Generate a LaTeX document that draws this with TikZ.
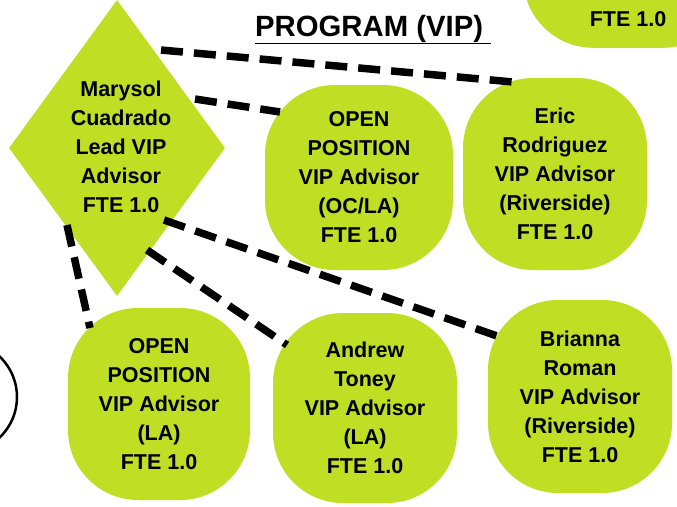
\documentclass[tikz,border=0pt]{standalone}
\usepackage{fontspec}
\setmainfont{Liberation Sans}
\usetikzlibrary{shapes.geometric,calc}
\definecolor{lime}{RGB}{191,222,36}
\begin{document}
\begin{tikzpicture}[x=1pt,y=-1pt,
  bubble/.style={rectangle, fill=lime, rounded corners=70pt, inner sep=0pt, align=center, font=\bfseries\fontsize{21.5}{29}\selectfont},
  txt/.style={inner sep=0pt, align=center, font=\bfseries\fontsize{21.5}{29}\selectfont},
  link/.style={line width=7.5pt, dash pattern=on 22pt off 11pt, black}]
\useasboundingbox (0,0) rectangle (677,506);
\clip (0,0) rectangle (677,506);
% top-right partial box
\node[bubble, minimum width=210, minimum height=190, anchor=south west] (topbox) at (523,48) {};
\node[txt] (toptext) at (628,19) {FTE 1.0};
% title
\node[inner sep=0pt, anchor=base west, font=\bfseries\fontsize{29.3}{34}\selectfont] (title) at (255,36) {\underline{PROGRAM (VIP)\ }};
% left circle
\node[circle, draw, line width=2.5pt, minimum size=112, inner sep=0pt] (ring) at (-39,397) {};
% diamond
\node[diamond, fill=lime, minimum width=216, minimum height=296, inner sep=0pt] (dia) at (117,148) {};
\node[txt] (diatext) at (121,146.5) {Marysol\\Cuadrado\\Lead VIP\\Advisor\\FTE 1.0};
% advisors
\node[bubble, minimum width=188, minimum height=185] (ocla) at (359,177.5) {OPEN\\POSITION\\VIP Advisor\\(OC/LA)\\FTE 1.0};
\node[bubble, minimum width=184, minimum height=192] (eric) at (555,174) {Eric\\Rodriguez\\VIP Advisor\\(Riverside)\\FTE 1.0};
\node[bubble, minimum width=182, minimum height=192] (la) at (159,404) {OPEN\\POSITION\\VIP Advisor\\(LA)\\FTE 1.0};
\node[bubble, minimum width=184, minimum height=190] (andrew) at (365,408) {Andrew\\Toney\\VIP Advisor\\(LA)\\FTE 1.0};
\node[bubble, minimum width=184, minimum height=193] (brianna) at (580,396.5) {Brianna\\Roman\\VIP Advisor\\(Riverside)\\FTE 1.0};
% connectors
\draw[link] ($(dia.center)+(44,-98)$) -- ($(eric.center)+(-42,-92)$);
\draw[link] ($(dia.center)+(78,-49)$) -- ($(ocla.center)+(-79,-65.5)$);
\draw[link] ($(dia.center)+(47,72)$) -- ($(brianna.center)+(-80,-59.5)$);
\draw[link] ($(dia.center)+(30,102)$) -- ($(andrew.center)+(-78,-63)$);
\draw[link] ($(dia.center)+(-50,77)$) -- ($(la.center)+(-69,-76)$);
\end{tikzpicture}
\end{document}
